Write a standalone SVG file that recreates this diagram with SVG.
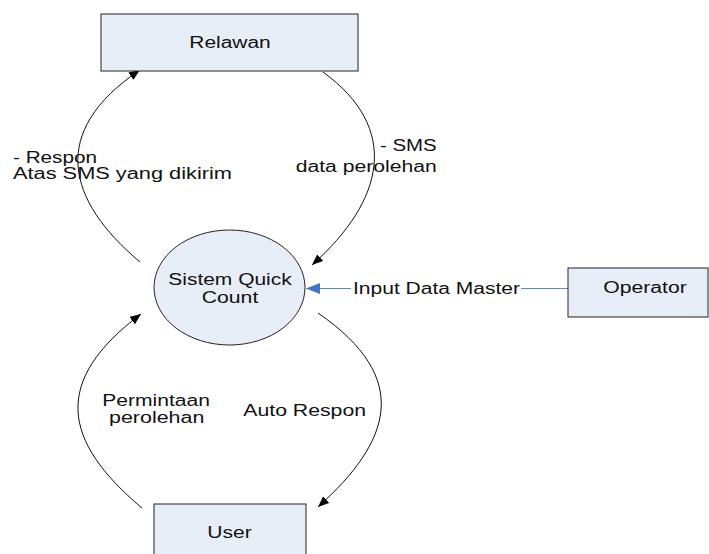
<svg xmlns="http://www.w3.org/2000/svg" width="709" height="554" viewBox="0 0 709 554">
  <style>
    .box { fill: #e8eef8; stroke: #222; stroke-width: 1; }
    .lbl { font-family: "Liberation Sans", Arial, sans-serif; font-size: 16px; fill: #111; }
    .flow { fill: none; stroke: #111; stroke-width: 1; }
    .input { fill: none; stroke: #5a8ad2; stroke-width: 1; }
  </style>
  <defs>
    <marker id="arrow" markerUnits="userSpaceOnUse" markerWidth="12" markerHeight="10" refX="11" refY="4.5" orient="auto">
      <path d="M0,0 L11,4.5 L0,9 z" fill="#000"/>
    </marker>
    <marker id="arrowBlue" markerUnits="userSpaceOnUse" markerWidth="15" markerHeight="12" refX="14" refY="5.5" orient="auto">
      <path d="M0,0 L14,5.5 L0,11 z" fill="#4472c4"/>
    </marker>
  </defs>

  <!-- data flows -->
  <g id="connectors">
    <path class="flow" d="M140,262 C66.7,200.4 48.1,131.6 140,70" marker-end="url(#arrow)"/>
    <path class="flow" d="M323,72 C400.2,128.1 385.5,199.6 312,265" marker-end="url(#arrow)"/>
    <path class="flow" d="M142,508 C62.1,440.9 51.6,381 141,314" marker-end="url(#arrow)"/>
    <path class="flow" d="M318,313 C413.1,378.6 390.9,441.4 318,507" marker-end="url(#arrow)"/>
    <path class="input" d="M568,288.5 H521 M351,288.5 H306" marker-end="url(#arrowBlue)"/>
  </g>

  <!-- flow labels -->
  <g id="flow-labels">
    <text class="lbl" x="13" y="163" textLength="84" lengthAdjust="spacingAndGlyphs">- Respon</text>
    <text class="lbl" x="13" y="179.3" textLength="219" lengthAdjust="spacingAndGlyphs">Atas SMS yang dikirim</text>
    <text class="lbl" x="380" y="151" textLength="56.7" lengthAdjust="spacingAndGlyphs">- SMS</text>
    <text class="lbl" x="295.7" y="171.7" textLength="141" lengthAdjust="spacingAndGlyphs">data perolehan</text>
    <text class="lbl" x="353" y="294" textLength="167" lengthAdjust="spacingAndGlyphs">Input Data Master</text>
    <text class="lbl" x="102.3" y="406" textLength="107.7" lengthAdjust="spacingAndGlyphs">Permintaan</text>
    <text class="lbl" x="109" y="423" textLength="95.3" lengthAdjust="spacingAndGlyphs">perolehan</text>
    <text class="lbl" x="243.3" y="416" textLength="122.7" lengthAdjust="spacingAndGlyphs">Auto Respon</text>
  </g>

  <g id="relawan">
    <rect class="box" x="101" y="14" width="257" height="57"/>
    <text class="lbl" x="189.3" y="48.3" textLength="81.4" lengthAdjust="spacingAndGlyphs">Relawan</text>
  </g>

  <g id="sistem-quick-count">
    <ellipse class="box" cx="229.5" cy="287.5" rx="75.5" ry="57.5"/>
    <text class="lbl" x="168.3" y="285" textLength="123.4" lengthAdjust="spacingAndGlyphs">Sistem Quick</text>
    <text class="lbl" x="201.7" y="303.3" textLength="56.6" lengthAdjust="spacingAndGlyphs">Count</text>
  </g>

  <g id="operator">
    <rect class="box" x="568" y="268" width="140" height="49"/>
    <text class="lbl" x="603.3" y="293.3" textLength="83.4" lengthAdjust="spacingAndGlyphs">Operator</text>
  </g>

  <g id="user">
    <rect class="box" x="154" y="504" width="152" height="60"/>
    <text class="lbl" x="207.3" y="538.3" textLength="44.4" lengthAdjust="spacingAndGlyphs">User</text>
  </g>
</svg>
